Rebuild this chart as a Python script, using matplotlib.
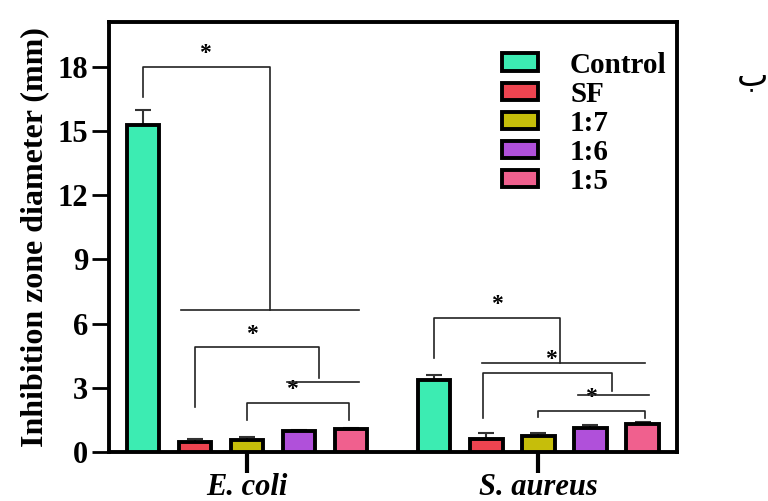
import matplotlib
matplotlib.use('Agg')
import matplotlib.pyplot as plt
import numpy as np

plt.rcParams['font.family'] = ['Liberation Serif', 'DejaVu Serif']

groups = ['E. coli', 'S. aureus']
series = ['Control', 'SF', '1:7', '1:6', '1:5']
colors = ['#3CECB2', '#EE4450', '#C6BE0A', '#B050DA', '#F0608E']

means = {
    'E. coli':   [15.3, 0.48, 0.56, 0.98, 1.07],
    'S. aureus': [3.36, 0.60, 0.76, 1.14, 1.29],
}
errs = {
    'E. coli':   [0.7, 0.12, 0.14, 0.04, 0.04],
    'S. aureus': [0.25, 0.30, 0.14, 0.12, 0.12],
}

group_centers = [0.0, 5.6]
offsets = np.arange(-2, 3)

# significance brackets: (x_left, x_right, y_top, y_left_end, y_right_end, star_x)
brackets = [
    (-2.0, 0.44, 18.0, 16.6, 6.65, -0.8),
    (-1.0, 1.38, 4.9, 2.1, 3.45, 0.1),
    (0.0, 1.96, 2.3, 1.5, 1.5, 0.87),
    (3.6, 6.02, 6.26, 4.4, 4.16, 4.8),
    (4.54, 7.02, 3.69, 1.6, 2.85, 5.85),
    (5.6, 7.64, 1.92, 1.64, 1.6, 6.6),
]
# plain horizontal lines: (x_start, x_end, y)
hlines = [
    (-1.27, 2.15, 6.63),
    (0.77, 2.15, 3.27),
    (4.52, 7.64, 4.16),
    (6.37, 7.72, 2.66),
]

fig = plt.figure(figsize=(7.68, 5.01), dpi=100)
ax = fig.add_axes([0.142, 0.098, 0.740, 0.858])

for gi, g in enumerate(groups):
    for si, s in enumerate(series):
        x = group_centers[gi] + offsets[si]
        ax.bar(x, means[g][si], width=0.62, color=colors[si], edgecolor='black',
               linewidth=2.8, label=s if gi == 0 else None, zorder=3)
        ax.errorbar(x, means[g][si], yerr=[[0], [errs[g][si]]], fmt='none',
                    ecolor='#333333', elinewidth=1.5, capsize=6, capthick=1.5, zorder=2)

lw = 1.2
for xl, xr, yt, yl, yr, sx in brackets:
    ax.plot([xl, xl, xr, xr], [yl, yt, yt, yr], color='#222222', lw=lw, zorder=4)
    ax.text(sx, yt + 0.12, '*', ha='center', va='bottom', fontsize=17, fontweight='bold')
for xs, xe, y in hlines:
    ax.plot([xs, xe], [y, y], color='#222222', lw=lw, zorder=4)

ax.set_xlim(-2.65, 8.27)
ax.set_ylim(0, 20.1)
ax.set_yticks([0, 3, 6, 9, 12, 15, 18])
ax.set_xticks(group_centers)
ax.set_xticklabels(groups, fontsize=22, fontweight='bold', fontstyle='italic')
for lab in ax.get_yticklabels():
    lab.set_fontsize(22)
    lab.set_fontweight('bold')
ax.tick_params(axis='y', direction='out', length=12, width=2, pad=3)
ax.tick_params(axis='x', direction='out', length=15, width=3, pad=0)
for sp in ax.spines.values():
    sp.set_linewidth(2.8)

ax.set_ylabel('Inhibition zone diameter (mm)', fontsize=23, fontweight='bold', labelpad=6)

leg = ax.legend(loc='upper right', bbox_to_anchor=(1.012, 0.972), frameon=False,
                prop={'weight': 'bold', 'size': 21}, handlelength=1.25, handleheight=0.55,
                labelspacing=0.07, handletextpad=1.1, borderaxespad=0.2)

fig.text(0.98, 0.85, 'ب', fontsize=24, family='DejaVu Sans', ha='center', va='center')

fig.savefig('out.png', dpi=100, facecolor='white')
